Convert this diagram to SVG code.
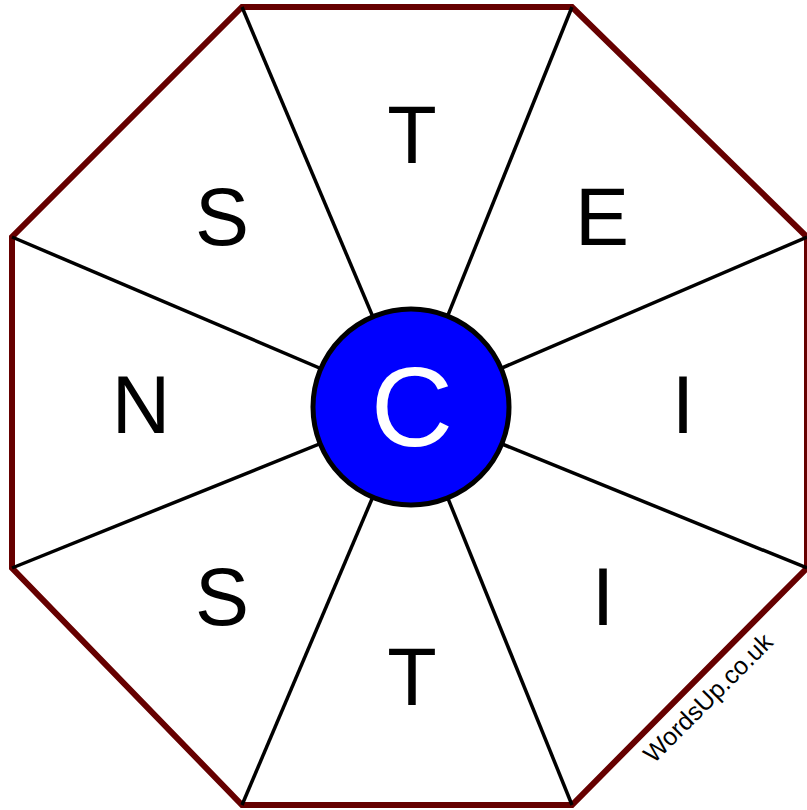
<svg xmlns="http://www.w3.org/2000/svg" width="807" height="810" viewBox="0 0 807 810">
<style>
.oct{fill:#fff;stroke:#660000;stroke-width:6;stroke-linejoin:miter}
.spoke{stroke:#000;stroke-width:3.5;fill:none}
.lt{font-family:"Liberation Sans",Arial,sans-serif;font-size:81px;fill:#000;text-anchor:middle}
.ct{font-family:"Liberation Sans",Arial,sans-serif;font-size:114px;fill:#fff;text-anchor:middle}
.wm{font-family:"Liberation Sans",Arial,sans-serif;font-size:25px;fill:#000;text-anchor:middle}
</style>
<rect width="807" height="810" fill="#fff"/>
<g id="octagon">
<polygon class="oct" points="242,7 572,7 807,237 807,568 572,805 242,805 12,568 12,237"/>
</g>
<g id="connectors">
<line class="spoke" x1="242" y1="7" x2="411" y2="407"/>
<line class="spoke" x1="572" y1="7" x2="411" y2="407"/>
<line class="spoke" x1="807" y1="237" x2="411" y2="407"/>
<line class="spoke" x1="807" y1="568" x2="411" y2="407"/>
<line class="spoke" x1="572" y1="805" x2="411" y2="407"/>
<line class="spoke" x1="242" y1="805" x2="411" y2="407"/>
<line class="spoke" x1="12" y1="568" x2="411" y2="407"/>
<line class="spoke" x1="12" y1="237" x2="411" y2="407"/>
</g>
<g id="letter-t-top"><text class="lt" x="412" y="163">T</text></g>
<g id="letter-e"><text class="lt" x="602" y="245">E</text></g>
<g id="letter-i-right"><text class="lt" x="683" y="433">I</text></g>
<g id="letter-i-lower"><text class="lt" x="603" y="625">I</text></g>
<g id="letter-t-bottom"><text class="lt" x="412" y="705">T</text></g>
<g id="letter-s-lower"><text class="lt" x="222" y="625">S</text></g>
<g id="letter-n"><text class="lt" x="141" y="433">N</text></g>
<g id="letter-s-upper"><text class="lt" x="222" y="245">S</text></g>
<g id="center">
<circle cx="411" cy="407" r="98" fill="#0000ff" stroke="#000" stroke-width="5"/>
<text class="ct" x="412" y="446">C</text>
</g>
<g id="watermark"><text class="wm" transform="translate(714,704) rotate(-45)">WordsUp.co.uk</text></g>
</svg>
